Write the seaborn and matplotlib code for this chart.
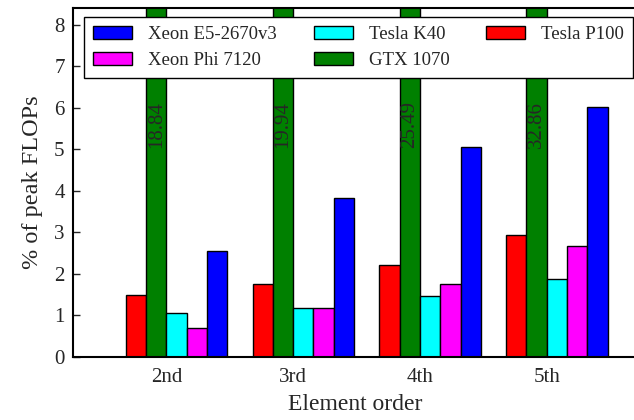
import pandas as pd
import seaborn as sns
import matplotlib
matplotlib.use("Agg")
import matplotlib.pyplot as plt
from matplotlib.patches import Patch

orders = ["2nd", "3rd", "4th", "5th"]
devices = ["Tesla P100", "GTX 1070", "Tesla K40", "Xeon Phi 7120", "Xeon E5-2670v3"]
tesla_p100 = [1.49, 1.75, 2.22, 2.95]
gtx_1070 = [18.84, 19.94, 25.49, 32.86]
tesla_k40 = [1.06, 1.17, 1.46, 1.89]
xeon_phi = [0.71, 1.19, 1.75, 2.68]
xeon_e5 = [2.56, 3.83, 5.07, 6.02]
colors = ["#ff0000", "#008000", "#00ffff", "#ff00ff", "#0000ff"]
legend_order = ["Xeon E5-2670v3", "Xeon Phi 7120", "Tesla K40", "GTX 1070", "Tesla P100"]

series = [tesla_p100, gtx_1070, tesla_k40, xeon_phi, xeon_e5]
rows = []
for dev, vals in zip(devices, series):
    for o, v in zip(orders, vals):
        rows.append({"order": o, "device": dev, "value": v})
df = pd.DataFrame(rows)

sns.set_style("ticks")
plt.rcParams["font.family"] = ["Liberation Serif", "DejaVu Serif"]
plt.rcParams["axes.linewidth"] = 1.5

fig = plt.figure(figsize=(6.34, 4.2), dpi=100)
ax = fig.add_axes([73 / 634, 63 / 420, 565 / 634, 349.5 / 420])

palette = dict(zip(devices, colors))
sns.barplot(data=df, x="order", y="value", hue="device", hue_order=devices,
            order=orders, palette=palette, saturation=1, width=0.8,
            edgecolor="black", linewidth=1.0, ax=ax, legend=False)

# value labels on the clipped GTX bars
for p, v in zip(ax.containers[1].patches, gtx_1070):
    ax.text(p.get_x() + p.get_width() / 2, 5.6, f"{v:.2f}", rotation=90,
            ha="center", va="center", fontsize=15)

ax.set_ylim(0, 8.42)
ax.set_xlim(-0.817, 3.64)
ax.set_yticks(range(9))
ax.set_xticks([i - 0.08 for i in range(len(orders))])
ax.set_xticklabels(orders)
ax.tick_params(axis="y", direction="in", length=5, width=1, labelsize=15, pad=6)
ax.tick_params(axis="x", length=0, labelsize=15, pad=8)
ax.set_xlabel("Element order", fontsize=17, labelpad=5)
ax.set_ylabel("% of peak FLOPs", fontsize=17.5, labelpad=8)
for s in ax.spines.values():
    s.set_color("black")
    s.set_linewidth(1.5)

handles = [Patch(facecolor=palette[d], edgecolor="black", linewidth=1.0, label=d)
           for d in legend_order]
leg = ax.legend(handles=handles, ncol=3, loc="upper left",
                bbox_to_anchor=(0.0195, 0.974), borderaxespad=0, fontsize=13.5,
                fancybox=False, framealpha=1, edgecolor="black",
                columnspacing=1.95, handlelength=2.08, handleheight=0.7,
                handletextpad=0.85, borderpad=0.5, labelspacing=0.46)
leg.get_frame().set_linewidth(1.0)

fig.savefig("out.png", dpi=100)
